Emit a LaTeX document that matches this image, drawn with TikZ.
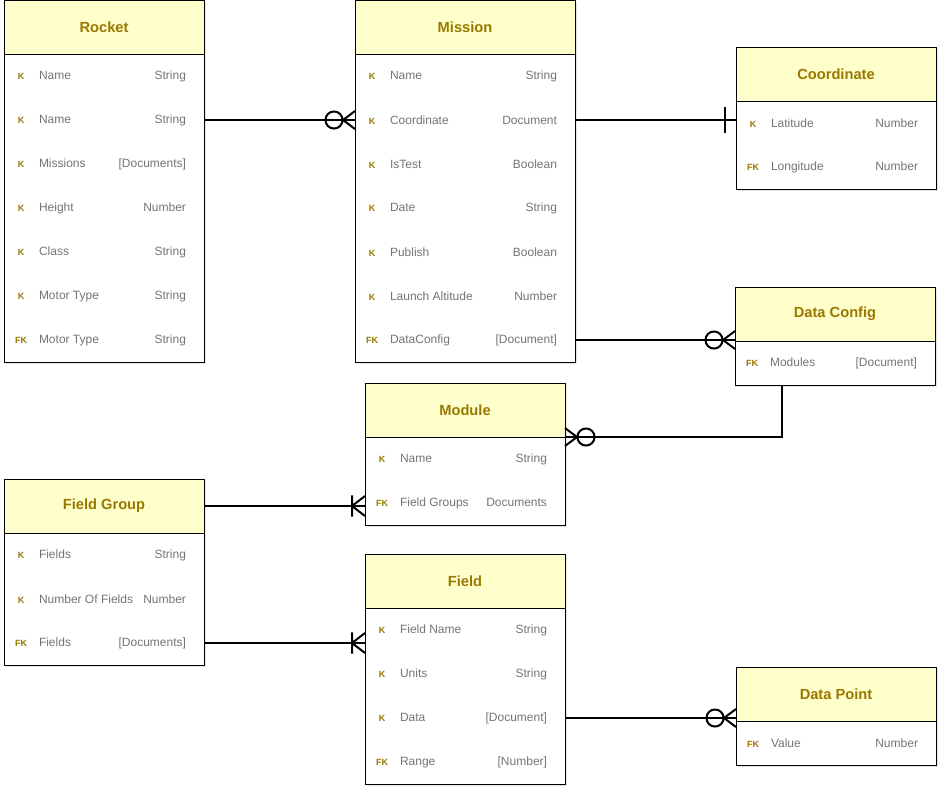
\documentclass[tikz,border=0pt]{standalone}
\usepackage{fontspec}
\setmainfont{Liberation Sans}
\usetikzlibrary{positioning,fit,backgrounds,shadows,decorations.markings}
\definecolor{headfill}{RGB}{255,255,204}
\definecolor{headtext}{RGB}{153,120,0}
\definecolor{rowtext}{RGB}{117,117,117}
\newcommand{\keyf}{\fontsize{6.75}{8}\selectfont\bfseries\color{headtext}}
\newcommand{\erow}[4]{\hbox to #1{\hspace*{6.75pt}\makebox[12pt]{\keyf #2}\hspace{7.5pt}#3\hfill #4\hspace*{13.5pt}}}
\tikzstyle{head}=[draw, line width=0.75pt, fill=headfill, text=headtext, font=\bfseries\fontsize{11}{13}\selectfont, inner sep=0pt, outer sep=0pt, minimum height=40.5pt]
\tikzstyle{row}=[inner sep=0pt, outer sep=0pt, minimum height=33pt, text=rowtext, font=\fontsize{9}{11}\selectfont]
\tikzstyle{tbl}=[draw, line width=0.75pt, fill=white, inner sep=0pt, outer sep=0pt, drop shadow={shadow xshift=1.5pt, shadow yshift=-1.5pt, opacity=0.2}]
\tikzstyle{link}=[draw, line width=1.5pt]
\tikzstyle{tozmany}=[postaction={decorate}, decoration={markings, mark=at position 1 with {\draw (-9pt,0pt) -- (0pt,6.75pt) (-9pt,0pt) -- (0pt,-6.75pt) (-15.75pt,0pt) circle (6.4pt);}}]
\tikzstyle{toone}=[postaction={decorate}, decoration={markings, mark=at position 1 with {\draw (-8.25pt,-9.75pt) -- (-8.25pt,9.75pt);}}]
\tikzstyle{toomany}=[postaction={decorate}, decoration={markings, mark=at position 1 with {\draw (-9.75pt,-7.9pt) -- (-9.75pt,7.9pt) (-9.75pt,0pt) -- (0pt,7.5pt) (-9.75pt,0pt) -- (0pt,-7.5pt);}}]

\begin{document}
\begin{tikzpicture}[x=0.75pt,y=-0.75pt]
\useasboundingbox (0,0) rectangle (941,793);

% tables
\node[head, minimum width=150pt, alias=rocket-0] (rocket) at (104,27) {Rocket};
\foreach \k/\n/\t [count=\i, remember=\i as \j (initially 0)] in {K/Name/String, K/Name/String, K/Missions/[Documents], K/Height/Number, K/Class/String, K/Motor Type/String, FK/Motor Type/String}
  \node[row, below=0pt of rocket-\j] (rocket-\i) {\erow{150pt}{\k}{\n}{\t}};

\node[head, minimum width=165pt, alias=mission-0] (mission) at (465,27) {Mission};
\foreach \k/\n/\t [count=\i, remember=\i as \j (initially 0)] in {K/Name/String, K/Coordinate/Document, K/IsTest/Boolean, K/Date/String, K/Publish/Boolean, K/Launch Altitude/Number, FK/DataConfig/[Document]}
  \node[row, below=0pt of mission-\j] (mission-\i) {\erow{165pt}{\k}{\n}{\t}};

\node[head, minimum width=150pt, alias=coord-0] (coord) at (836,74) {Coordinate};
\foreach \k/\n/\t [count=\i, remember=\i as \j (initially 0)] in {K/Latitude/Number, FK/Longitude/Number}
  \node[row, below=0pt of coord-\j] (coord-\i) {\erow{150pt}{\k}{\n}{\t}};

\node[head, minimum width=150pt, alias=dcfg-0] (dcfg) at (835,314) {Data Config};
\node[row, below=0pt of dcfg-0] (dcfg-1) {\erow{150pt}{FK}{Modules}{[Document]}};

\node[head, minimum width=150pt, alias=module-0] (module) at (465,410) {Module};
\foreach \k/\n/\t [count=\i, remember=\i as \j (initially 0)] in {K/Name/String, FK/Field Groups/Documents}
  \node[row, below=0pt of module-\j] (module-\i) {\erow{150pt}{\k}{\n}{\t}};

\node[head, minimum width=150pt, alias=fgroup-0] (fgroup) at (104,506) {Field Group};
\foreach \k/\n/\t [count=\i, remember=\i as \j (initially 0)] in {K/Fields/String, K/Number Of Fields/Number, FK/Fields/[Documents]}
  \node[row, below=0pt of fgroup-\j] (fgroup-\i) {\erow{150pt}{\k}{\n}{\t}};

\node[head, minimum width=150pt, alias=field-0] (field) at (465,581) {Field};
\foreach \k/\n/\t [count=\i, remember=\i as \j (initially 0)] in {K/Field Name/String, K/Units/String, K/Data/[Document], FK/Range/[Number]}
  \node[row, below=0pt of field-\j] (field-\i) {\erow{150pt}{\k}{\n}{\t}};

\node[head, minimum width=150pt, alias=dpoint-0] (dpoint) at (836,694) {Data Point};
\node[row, below=0pt of dpoint-0] (dpoint-1) {\erow{150pt}{FK}{Value}{Number}};

% outlines
\begin{scope}[on background layer]
\node[tbl, fit=(rocket)(rocket-7)] (rocket-box) {};
\node[tbl, fit=(mission)(mission-7)] (mission-box) {};
\node[tbl, fit=(coord)(coord-2)] (coord-box) {};
\node[tbl, fit=(dcfg)(dcfg-1)] (dcfg-box) {};
\node[tbl, fit=(module)(module-2)] (module-box) {};
\node[tbl, fit=(fgroup)(fgroup-3)] (fgroup-box) {};
\node[tbl, fit=(field)(field-4)] (field-box) {};
\node[tbl, fit=(dpoint)(dpoint-1)] (dpoint-box) {};
\end{scope}

% relations
\draw[link, tozmany] (rocket-2.east) -- (mission-2.west);
\draw[link, toone] (mission-2.east) -- (mission-2.east -| coord.west);
\draw[link, tozmany] (mission-7.east) -- (mission-7.east -| dcfg.west);
\draw[link, tozmany] ([xshift=-39.75pt]dcfg-box.south) |- (module.south east);
\draw[link, toomany] (fgroup.east) -- (fgroup.east -| module.west);
\draw[link, toomany] (fgroup-3.east) -- (fgroup-3.east -| field.west);
\draw[link, tozmany] (field-3.east) -- (field-3.east -| dpoint.west);

\end{tikzpicture}
\end{document}
